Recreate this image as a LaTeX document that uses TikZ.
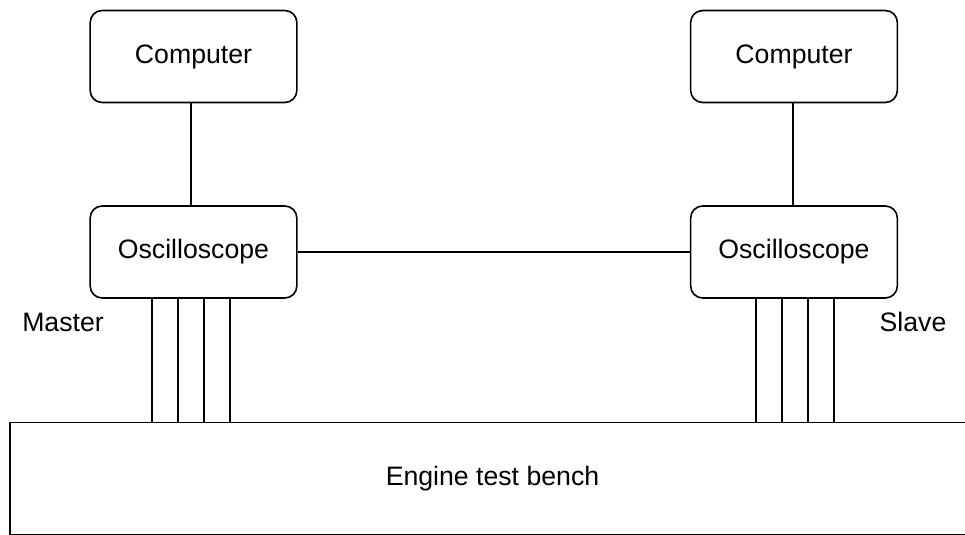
\documentclass[tikz,border=0pt]{standalone}
\usepackage{fontspec}
\setmainfont{Liberation Sans}
\usetikzlibrary{positioning, calc}

\begin{document}
\begin{tikzpicture}[x=0.75pt, y=-0.75pt, line width=0.9pt,
    font=\fontsize{20}{24}\selectfont,
    unit/.style={draw, line width=1.2pt, rounded corners=9pt,
                 minimum width=155pt, minimum height=69pt, align=center},
    benchbox/.style={draw, line width=1.2pt, minimum width=723.75pt,
                     minimum height=84.4pt}]
  \useasboundingbox (0,0) rectangle (965,535);
  \clip (0,0) rectangle (965,535);
  \node[unit] (compL) at (193.5,56.5) {Computer};
  \node[unit] (compR) at (794,56.5) {Computer};
  \node[unit] (oscL) at (193.5,252) {Oscilloscope};
  \node[unit] (oscR) at (794,252) {Oscilloscope};
  \node[benchbox] (bench) at (492.5,478.6) {Engine test bench};
  \node (master) at (63,322) {Master};
  \node (slave) at (913,322) {Slave};
  % links
  \coordinate (linkL) at (191,0);
  \coordinate (linkR) at (793,0);
  \draw (compL.south -| linkL) -- (oscL.north -| linkL);
  \draw (compR.south -| linkR) -- (oscR.north -| linkR);
  \draw (oscL) -- (oscR);
  % probe lines
  \foreach \x in {152,178,204,230} {
    \coordinate (t) at (\x,0);
    \draw (oscL.south -| t) -- (bench.north -| t);
  }
  \foreach \x in {756,782,808,834} {
    \coordinate (t) at (\x,0);
    \draw (oscR.south -| t) -- (bench.north -| t);
  }
\end{tikzpicture}
\end{document}
